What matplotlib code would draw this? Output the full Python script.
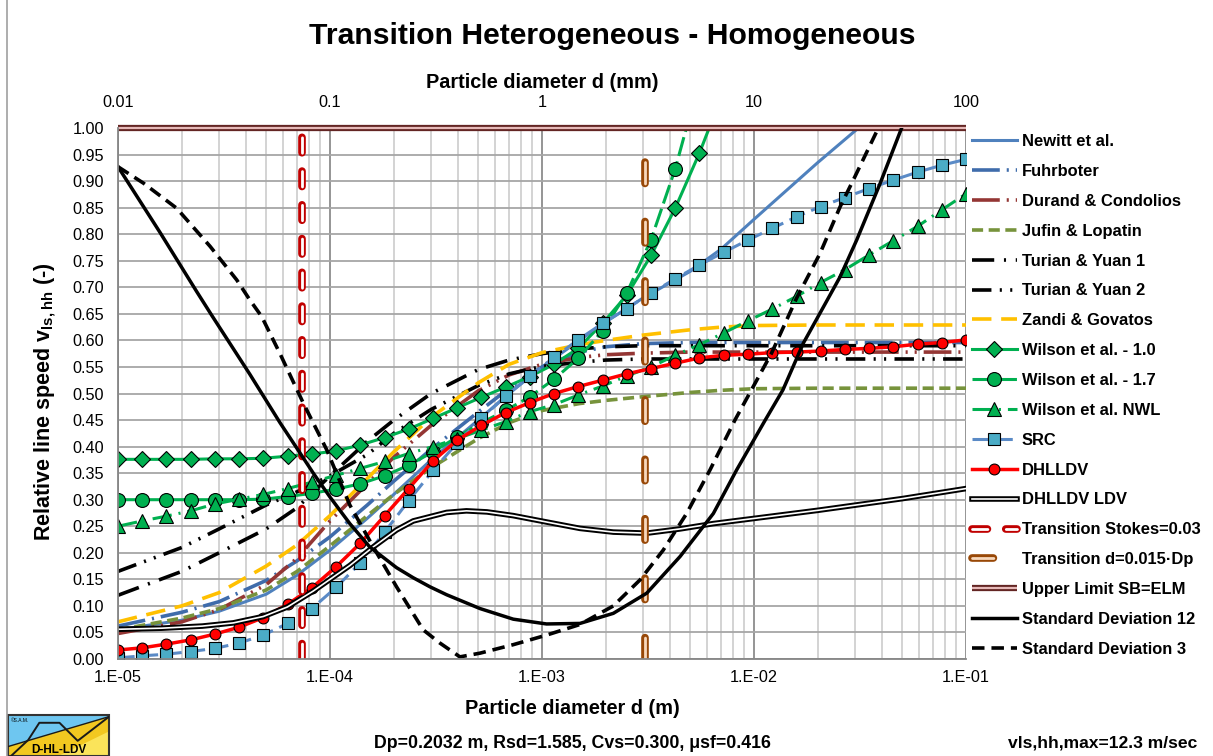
import matplotlib
matplotlib.use('Agg')
import matplotlib.pyplot as plt
from matplotlib.lines import Line2D
from matplotlib.patches import Polygon, Rectangle
from matplotlib.ticker import LogLocator, NullFormatter, NullLocator, MultipleLocator, FormatStrFormatter

plt.rcParams['font.family'] = 'Liberation Sans'
plt.rcParams['lines.scale_dashes'] = False
plt.rcParams['mathtext.fontset'] = 'custom'
plt.rcParams['mathtext.rm'] = 'Liberation Sans'
plt.rcParams['mathtext.bf'] = 'Liberation Sans:bold'

# ---------------- data (d in m, relative line speed) ----------------
d_grid = [1e-5, 2e-5, 3e-5, 5e-5, 7e-5, 1e-4, 1.5e-4, 2e-4, 3e-4, 5e-4, 7e-4,
          1e-3, 1.5e-3, 2e-3, 3e-3, 5e-3, 7e-3, 1e-2, 2e-2, 5e-2, 1e-1]

newitt = [0.055, 0.073, 0.090, 0.122, 0.158, 0.205, 0.265, 0.310, 0.375, 0.450, 0.500,
          0.550, 0.600, 0.635, 0.680, 0.730, 0.772, 0.828, 0.935, 1.070, 1.180]
fuhrboter = [0.062, 0.088, 0.108, 0.148, 0.185, 0.230, 0.290, 0.335, 0.395, 0.465, 0.510,
             0.550, 0.578, 0.588, 0.594, 0.596, 0.596, 0.596, 0.596, 0.596, 0.596]
durand = [0.048, 0.070, 0.093, 0.140, 0.190, 0.260, 0.330, 0.380, 0.440, 0.505, 0.535,
          0.555, 0.568, 0.573, 0.576, 0.578, 0.578, 0.578, 0.578, 0.578, 0.578]
jufin = [0.055, 0.077, 0.095, 0.130, 0.165, 0.213, 0.270, 0.310, 0.360, 0.415, 0.445,
         0.468, 0.481, 0.487, 0.494, 0.502, 0.506, 0.509, 0.510, 0.510, 0.510]
turian1 = [0.120, 0.165, 0.200, 0.245, 0.285, 0.345, 0.410, 0.450, 0.500, 0.545, 0.563,
           0.575, 0.584, 0.588, 0.590, 0.590, 0.590, 0.590, 0.590, 0.590, 0.590]
turian2 = [0.165, 0.210, 0.245, 0.290, 0.315, 0.345, 0.385, 0.425, 0.470, 0.515, 0.537,
           0.551, 0.559, 0.563, 0.565, 0.565, 0.565, 0.565, 0.565, 0.565, 0.565]
zandi = [0.070, 0.100, 0.125, 0.175, 0.215, 0.270, 0.340, 0.390, 0.455, 0.520, 0.555,
         0.577, 0.592, 0.600, 0.610, 0.620, 0.625, 0.628, 0.629, 0.629, 0.629]

d_ldv = [1.00e-5, 1.60e-5, 2.50e-5, 3.50e-5, 4.84e-5, 6.30e-5, 8.34e-5, 1.00e-4, 1.24e-4,
         1.60e-4, 2.06e-4, 2.47e-4, 3.55e-4, 4.40e-4, 5.50e-4, 7.32e-4, 1.05e-3, 1.51e-3,
         2.17e-3, 3.12e-3, 4.48e-3, 6.43e-3, 1.06e-2, 2.00e-2, 5.00e-2, 1.00e-1]
ldv = [0.056, 0.058, 0.062, 0.068, 0.080, 0.098, 0.128, 0.150, 0.176,
       0.211, 0.243, 0.260, 0.276, 0.279, 0.277, 0.270, 0.258, 0.246,
       0.239, 0.237, 0.245, 0.255, 0.266, 0.280, 0.302, 0.321]

# marker series share the same 36 particle diameters
d_mark = [1.00e-5, 1.30e-5, 1.69e-5, 2.20e-5, 2.87e-5, 3.73e-5, 4.85e-5, 6.31e-5, 8.21e-5,
          1.07e-4, 1.39e-4, 1.81e-4, 2.35e-4, 3.06e-4, 3.98e-4, 5.18e-4, 6.74e-4, 8.77e-4,
          1.14e-3, 1.48e-3, 1.93e-3, 2.51e-3, 3.27e-3, 4.25e-3, 5.53e-3, 7.20e-3, 9.37e-3,
          1.22e-2, 1.59e-2, 2.06e-2, 2.68e-2, 3.49e-2, 4.55e-2, 5.92e-2, 7.70e-2, 1.00e-1]

wilson10 = [0.376, 0.376, 0.376, 0.376, 0.377, 0.377, 0.378, 0.382, 0.386, 0.392, 0.403,
            0.417, 0.433, 0.453, 0.473, 0.493, 0.512, 0.532, 0.555, 0.585, 0.632, 0.685,
            0.760, 0.849, 0.953, 1.070]
wilson17 = [0.300, 0.300, 0.300, 0.300, 0.300, 0.300, 0.301, 0.306, 0.312, 0.320, 0.330,
            0.345, 0.365, 0.390, 0.418, 0.445, 0.468, 0.494, 0.527, 0.566, 0.618, 0.689,
            0.790, 0.923, 1.090]
wilson_nwl = [0.250, 0.260, 0.269, 0.279, 0.292, 0.301, 0.310, 0.321, 0.333, 0.346, 0.359,
              0.372, 0.387, 0.400, 0.415, 0.431, 0.447, 0.466, 0.479, 0.497, 0.514, 0.533,
              0.550, 0.572, 0.592, 0.614, 0.637, 0.659, 0.683, 0.709, 0.733, 0.761, 0.788,
              0.815, 0.846, 0.876]
src = [0.002, 0.006, 0.009, 0.014, 0.020, 0.030, 0.045, 0.067, 0.095, 0.135, 0.181,
       0.239, 0.298, 0.355, 0.407, 0.453, 0.495, 0.533, 0.568, 0.601, 0.632, 0.660,
       0.689, 0.716, 0.742, 0.766, 0.789, 0.811, 0.833, 0.852, 0.869, 0.886, 0.902,
       0.917, 0.930, 0.941]
dhlldv = [0.017, 0.021, 0.028, 0.036, 0.047, 0.060, 0.078, 0.103, 0.134, 0.174, 0.218,
          0.270, 0.321, 0.373, 0.412, 0.440, 0.464, 0.483, 0.500, 0.513, 0.525, 0.537,
          0.547, 0.557, 0.567, 0.572, 0.574, 0.577, 0.578, 0.580, 0.583, 0.585, 0.588,
          0.593, 0.596, 0.601]

d_sd12 = [1.00e-5, 1.58e-5, 2.35e-5, 2.77e-5, 4.19e-5, 5.81e-5, 7.22e-5, 8.34e-5, 1.00e-4,
          1.24e-4, 1.54e-4, 2.06e-4, 2.47e-4, 2.96e-4, 3.55e-4, 5.10e-4, 7.32e-4, 1.05e-3,
          1.51e-3, 2.17e-3, 3.12e-3, 4.48e-3, 6.43e-3, 8.28e-3, 1.13e-2, 1.37e-2, 1.71e-2,
          2.16e-2, 2.55e-2, 3.05e-2, 3.93e-2, 4.97e-2, 6.07e-2]
sd12 = [0.927, 0.803, 0.692, 0.647, 0.536, 0.445, 0.388, 0.350, 0.305,
        0.255, 0.211, 0.172, 0.153, 0.136, 0.121, 0.095, 0.075, 0.066,
        0.067, 0.086, 0.124, 0.193, 0.274, 0.356, 0.450, 0.507, 0.595,
        0.668, 0.720, 0.789, 0.895, 1.000, 1.080]
d_sd3 = [1.00e-5, 1.32e-5, 1.89e-5, 2.72e-5, 3.63e-5, 4.19e-5, 4.76e-5, 5.81e-5, 7.48e-5,
         9.65e-5, 1.24e-4, 1.60e-4, 2.06e-4, 2.75e-4, 3.30e-4, 4.10e-4, 5.10e-4, 7.32e-4,
         1.05e-3, 1.51e-3, 2.17e-3, 2.90e-3, 3.73e-3, 4.81e-3, 6.20e-3, 8.13e-3, 1.21e-2,
         1.59e-2, 2.05e-2, 2.55e-2, 2.94e-2, 3.86e-2, 4.88e-2]
sd3 = [0.927, 0.896, 0.849, 0.777, 0.714, 0.676, 0.645, 0.575, 0.482,
       0.394, 0.290, 0.211, 0.136, 0.055, 0.030, 0.004, 0.011, 0.027,
       0.045, 0.065, 0.100, 0.149, 0.205, 0.274, 0.356, 0.450, 0.576,
       0.680, 0.764, 0.852, 0.902, 1.000, 1.080]

d_stokes = 7.35e-5          # Stokes = 0.03
d_trans = 0.015 * 0.2032    # d = 0.015 Dp
upper_limit = 1.0

x_ticks = [1e-5, 1e-4, 1e-3, 1e-2, 1e-1]
x_ticklabels = ['1.E-05', '1.E-04', '1.E-03', '1.E-02', '1.E-01']
top_ticks = [0.01, 0.1, 1, 10, 100]
top_ticklabels = ['0.01', '0.1', '1', '10', '100']

# ---------------- figure ----------------
W, H = 1213, 756
fig = plt.figure(figsize=(W / 100, H / 100), dpi=100)
ax = fig.add_axes([118 / W, (H - 659) / H, 848 / W, 531 / H])
ax.set_xscale('log')

LW = 2.2
green = '#00B050'
h = {}
h['Newitt et al.'] = ax.plot(d_grid, newitt, color='#4F81BD', lw=LW)[0]
h['Fuhrboter'] = ax.plot(d_grid, fuhrboter, color='#3F6CAB', lw=2.6,
                         dashes=(20, 5, 1.5, 5))[0]
h['Durand & Condolios'] = ax.plot(d_grid, durand, color='#943634', lw=2.6,
                                  dashes=(20, 5, 1.5, 5, 1.5, 5))[0]
h['Jufin & Lopatin'] = ax.plot(d_grid, jufin, color='#77933C', lw=2.6, dashes=(8, 4))[0]
h['Turian & Yuan 1'] = ax.plot(d_grid, turian1, color='black', lw=2.6,
                               dashes=(16, 7, 1.5, 7))[0]
h['Turian & Yuan 2'] = ax.plot(d_grid, turian2, color='black', lw=2.6,
                               dashes=(14, 6, 1.5, 6, 1.5, 6))[0]
h['Zandi & Govatos'] = ax.plot(d_grid, zandi, color='#FFC000', lw=2.6, dashes=(14, 7))[0]
h['Wilson et al. - 1.0'] = ax.plot(d_mark[:len(wilson10)], wilson10, color=green, lw=LW,
                                   marker='D', ms=8.5, mfc=green, mec='black', mew=0.8)[0]
h['Wilson et al. - 1.7'] = ax.plot(d_mark[:len(wilson17)], wilson17, color=green, lw=LW,
                                   dashes=(14, 4), marker='o', ms=10, mfc=green,
                                   mec='black', mew=0.8)[0]
h['Wilson et al. NWL'] = ax.plot(d_mark, wilson_nwl, color=green, lw=LW,
                                 dashes=(14, 5, 1.5, 5), marker='^', ms=9.5, mfc=green,
                                 mec='black', mew=0.8)[0]
h['SRC'] = ax.plot(d_mark, src, color='#5A8AC6', lw=LW, dashes=(12, 5), marker='s',
                   ms=8, mfc='#4BACC6', mec='black', mew=0.8)[0]
h['DHLLDV'] = ax.plot(d_mark, dhlldv, color='#FF0000', lw=2.5, marker='o', ms=7.8,
                      mfc='#FF0000', mec='black', mew=0.8)[0]
ldv_o = ax.plot(d_ldv, ldv, color='black', lw=4.0)[0]
ldv_i = ax.plot(d_ldv, ldv, color='white', lw=1.2)[0]
h['DHLLDV LDV'] = (ldv_o, ldv_i)

st_o = ax.plot([d_stokes, d_stokes], [0, upper_limit], color='#C00000', lw=5.5,
               dashes=(11.1, 13.2), dash_capstyle='round')[0]
st_i = ax.plot([d_stokes, d_stokes], [0, upper_limit], color='white', lw=2.0,
               dashes=(11.1, 13.2), dash_capstyle='round')[0]
h['Transition Stokes=0.03'] = (st_o, st_i)
tr_o = ax.plot([d_trans, d_trans], [0, upper_limit], color='#984807', lw=5.5,
               dashes=(15.4, 27.4), dash_capstyle='round')[0]
tr_i = ax.plot([d_trans, d_trans], [0, upper_limit], color='#F8D8BC', lw=2.0,
               dashes=(15.4, 27.4), dash_capstyle='round')[0]
h['Transition d=0.015·Dp'] = (tr_o, tr_i)
ul_o = ax.plot([1e-5, 1e-1], [upper_limit, upper_limit], color='#632523', lw=4.5,
               clip_on=False, solid_capstyle='butt')[0]
ul_i = ax.plot([1e-5, 1e-1], [upper_limit, upper_limit], color='#E6B9B8', lw=1.6,
               clip_on=False, solid_capstyle='butt')[0]
h['Upper Limit SB=ELM'] = (ul_o, ul_i)
h['Standard Deviation 12'] = ax.plot(d_sd12, sd12, color='black', lw=2.5)[0]
h['Standard Deviation 3'] = ax.plot(d_sd3, sd3, color='black', lw=2.6, dashes=(9, 5))[0]

# ---------------- axes styling ----------------
ax.set_xlim(1e-5, 1e-1)
ax.set_ylim(0, 1)
ax.set_xticks(x_ticks)
ax.set_xticklabels(x_ticklabels)
ax.xaxis.set_minor_locator(LogLocator(base=10, subs=[2, 3, 4, 5, 6, 7, 8, 9]))
ax.xaxis.set_minor_formatter(NullFormatter())
ax.yaxis.set_major_locator(MultipleLocator(0.05))
ax.yaxis.set_major_formatter(FormatStrFormatter('%.2f'))
ax.set_axisbelow(True)
ax.grid(which='major', axis='y', color='#A6A6A6', lw=1.3)
ax.grid(which='major', axis='x', color='#8C8C8C', lw=1.3)
ax.grid(which='minor', axis='x', color='#D0D0D0', lw=1.3)
ax.tick_params(which='both', length=0, labelsize=11.7)
ax.tick_params(axis='y', pad=10)
ax.tick_params(axis='x', pad=8)
for s in ['top', 'right']:
    ax.spines[s].set_visible(False)
for s in ['left', 'bottom']:
    ax.spines[s].set_color('#868686')
    ax.spines[s].set_linewidth(1.3)

sec = ax.secondary_xaxis('top', functions=(lambda x: x * 1e3, lambda x: x / 1e3))
sec.set_xticks(top_ticks)
sec.set_xticklabels(top_ticklabels)
sec.xaxis.set_minor_locator(NullLocator())
sec.tick_params(length=0, pad=13, labelsize=11.7)
sec.spines['top'].set_visible(False)

# ---------------- texts ----------------
fig.text(612 / W, 1 - 36 / H, 'Transition Heterogeneous - Homogeneous', ha='center',
         va='center', fontsize=21.7, fontweight='bold')
fig.text(542 / W, 1 - 82 / H, 'Particle diameter d (mm)', ha='center', va='center',
         fontsize=14.3, fontweight='bold')
fig.text(572 / W, 1 - 708 / H, 'Particle diameter d (m)', ha='center', va='center',
         fontsize=14.3, fontweight='bold')
fig.text(45 / W, 1 - 402 / H, r'Relative line speed v$_\mathbf{ls,hh}$ (-)', ha='center',
         va='center', rotation=90, fontsize=15.5, fontweight='bold')
fig.text(572 / W, 1 - 743 / H, 'Dp=0.2032 m, Rsd=1.585, Cvs=0.300, μsf=0.416',
         ha='center', va='center', fontsize=12.8, fontweight='bold')
fig.text(1103 / W, 1 - 743 / H, 'vls,hh,max=12.3 m/sec', ha='center', va='center',
         fontsize=12.6, fontweight='bold')

labels = list(h.keys())
fig.legend([h[k] for k in labels], labels, loc='upper left',
           bbox_to_anchor=(972 / W, 1 - 134 / H), frameon=False,
           prop={'weight': 'bold', 'size': 11.9}, handlelength=2.7,
           handletextpad=0.3, labelspacing=0.9, borderpad=0, borderaxespad=0,
           numpoints=1)

# chart border on the left
fig.add_artist(Line2D([7 / W, 7 / W], [0, 1], color='#A0A0A0', lw=1.2))

# ---------------- logo ----------------
lax = fig.add_axes([8 / W, 0, 101 / W, 41 / H])
lax.set_xlim(0, 1)
lax.set_ylim(0, 1)
lax.axis('off')
lax.add_patch(Rectangle((0, 0), 1, 1, facecolor='#6EC6F0', edgecolor='none'))
lax.add_patch(Polygon([(0, 0), (0, 0.23), (1, 0.96), (1, 0)], closed=True,
                      facecolor='#F2C820', edgecolor='none'))
lax.add_patch(Polygon([(0.5, 0), (1, 0.6), (1, 0)], closed=True,
                      facecolor='#FBE45A', edgecolor='none'))
lax.plot([0, 1], [0.23, 0.96], color='#1A1A1A', lw=1.0)
lax.plot([0.03, 0.2, 0.31, 0.51, 0.69, 0.99], [0, 0.39, 0.81, 0.81, 0.37, 0.94],
         color='#1A1A1A', lw=1.4)
lax.add_patch(Rectangle((0, 0), 1, 1, facecolor='none', edgecolor='#333333', lw=1.5,
                        clip_on=False))
lax.text(0.5, 0.14, 'D-HL-LDV', ha='center', va='center', fontsize=8.5,
         fontweight='bold')
lax.text(0.03, 0.86, '©S.A.M.', ha='left', va='center', fontsize=3.5)

fig.savefig('out.png', dpi=100)
